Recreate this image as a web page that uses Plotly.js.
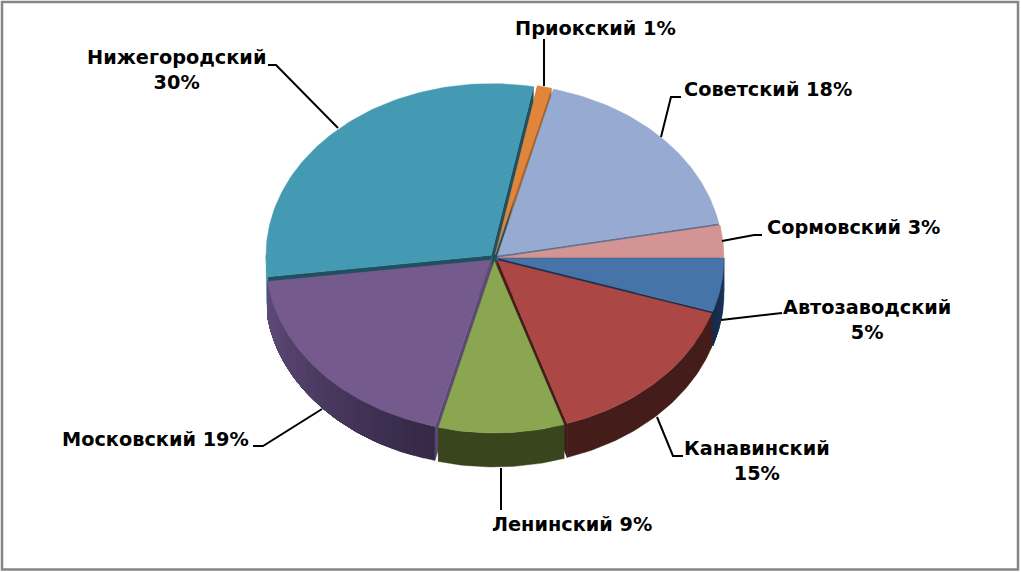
<!DOCTYPE html>
<html>
<head>
<meta charset="utf-8">
<script src="https://cdn.plot.ly/plotly-3.0.1.min.js"></script>
<style>html,body{margin:0;padding:0;background:#fff}#c{width:1021px;height:572px}</style>
</head>
<body>
<div id="c"></div>
<script>
// Data, clockwise from 3 o'clock
const categories = ['Автозаводский','Канавинский','Ленинский','Московский','Нижегородский','Приокский','Советский','Сормовский'];
const shares = [5,15,9,19,30,1,18,3];
const labelTexts = ['Автозаводский<br>5%','Канавинский<br>15%','Ленинский 9%','Московский 19%','Нижегородский<br>30%','Приокский 1%','Советский 18%','Сормовский 3%'];

// Styles
const topColors = ['#4674A8','#AB4744','#8BA651','#755A8D','#439AB2','#E0853A','#97ABD2','#D39594'];
const faceColors = ['#18304F','#441C19','#39451D','#5B4A78','#1F5060','#A8632A','#5F7194','#7F6A70'];
const wallStart = ['#1F3D63','#441C19','#39451D','#352845','#3A8A9F','#A8632A','#5F7194','#8A5F5E'];
const wallEnd   = ['#16294A','#441C19','#39451D','#604C7B','#3A8A9F','#A8632A','#5F7194','#8A5F5E'];

// Geometry in pixels of the page
const W = 1021, H = 572;
const cx = 494.3, cy = 257.8, rx = 225.2, ry = 171.7, depthPx = 34, explode = 0.02;
const depth = depthPx / ry;
const labelPos = [[867,320],[757,461],[572,524],[155,439],[176,70],[595,28],[768,90],[853,228]];
const leaders = [
  [[721,320],[778,313],[782,313]],
  [[657,417],[673,456],[683,456]],
  [[501,468],[501,510]],
  [[322,409],[263,446],[253,446]],
  [[268,65],[276,65],[338,128]],
  [[544,39],[544,86]],
  [[681,97],[671,97],[661,137]],
  [[722,241],[754,235],[762,235]]
];
const toX = px => (px - cx) / rx;
const toY = py => (py - cy) / ry;

const total = shares.reduce((a,b)=>a+b,0);
let acc = 0;
const slices = shares.map((v,i) => {
  const a0 = acc/total*2*Math.PI; acc += v;
  const a1 = acc/total*2*Math.PI;
  const mid = (a0+a1)/2;
  return {i,a0,a1,mid,ox:explode*Math.cos(mid),oy:explode*Math.sin(mid)};
});

function poly(xs,ys,color){
  return {type:'scatter',mode:'lines',x:xs,y:ys,fill:'toself',fillcolor:color,
          line:{color:color,width:0.4},hoverinfo:'skip',showlegend:false};
}
function arc(a0,a1,ox,oy,dz){
  const n = Math.max(2,Math.ceil((a1-a0)/0.02));
  const xs=[],ys=[];
  for(let k=0;k<=n;k++){const a=a0+(a1-a0)*k/n;xs.push(ox+Math.cos(a));ys.push(oy+dz+Math.sin(a));}
  return {xs,ys};
}
function hex(c){return [1,3,5].map(p=>parseInt(c.substr(p,2),16));}
function mix(c0,c1,t){const a=hex(c0),b=hex(c1);return 'rgb('+a.map((v,k)=>Math.round(v+(b[k]-v)*t)).join(',')+')';}

const traces = [];
// walls, back to front
[...slices].sort((p,q)=>Math.sin(p.mid)-Math.sin(q.mid)).forEach(s=>{
  [s.a0,s.a1].forEach(a=>{
    const ex=s.ox+Math.cos(a), ey=s.oy+Math.sin(a);
    traces.push(poly([s.ox,ex,ex,s.ox,s.ox],[s.oy,ey,ey+depth,s.oy+depth,s.oy],faceColors[s.i]));
  });
  const v0=Math.max(s.a0,0), v1=Math.min(s.a1,Math.PI);
  if(v1>v0){
    const flat = wallStart[s.i]===wallEnd[s.i];
    const steps=flat?1:Math.max(1,Math.round((v1-v0)/0.05));
    for(let k=0;k<steps;k++){
      // each band runs to the end of the arc, so the next one paints over it without a seam
      const b0=v0+(v1-v0)*k/steps;
      const t=arc(b0,v1,s.ox,s.oy,0),b=arc(b0,v1,s.ox,s.oy,depth);
      traces.push(poly(t.xs.concat(b.xs.slice().reverse(),[t.xs[0]]),t.ys.concat(b.ys.slice().reverse(),[t.ys[0]]),
        mix(wallStart[s.i],wallEnd[s.i],(k+0.5)/steps)));
    }
  }
});
// tops
slices.forEach(s=>{
  const t=arc(s.a0,s.a1,s.ox,s.oy,0);
  const tr=poly([s.ox].concat(t.xs,[s.ox]),[s.oy].concat(t.ys,[s.oy]),topColors[s.i]);
  tr.name=categories[s.i];
  traces.push(tr);
});
// leader lines
leaders.forEach(l=>{
  traces.push({type:'scatter',mode:'lines',x:l.map(p=>toX(p[0])),y:l.map(p=>toY(p[1])),
    line:{color:'#000',width:2},hoverinfo:'skip',showlegend:false});
});

const annotations = labelTexts.map((t,i)=>({
  text:'<b>'+t+'</b>',xref:'paper',yref:'paper',x:labelPos[i][0]/W,y:1-labelPos[i][1]/H,
  xanchor:'center',yanchor:'middle',showarrow:false,align:'center',
  font:{family:'"DejaVu Sans",sans-serif',size:19.3,color:'#000'}
}));

Plotly.newPlot('c',traces,{
  width:W,height:H,margin:{l:0,r:0,t:0,b:0},showlegend:false,
  paper_bgcolor:'#fff',plot_bgcolor:'#fff',
  xaxis:{range:[toX(0),toX(W)],visible:false,fixedrange:true},
  yaxis:{range:[toY(H),toY(0)],visible:false,fixedrange:true},
  annotations:annotations,
  shapes:[{type:'rect',xref:'paper',yref:'paper',x0:2/W,x1:1018/W,y0:1-2/H,y1:1-569.5/H,
    line:{color:'#868686',width:2.5},fillcolor:'rgba(0,0,0,0)'}]
},{displayModeBar:false,staticPlot:true});
</script>
</body>
</html>
